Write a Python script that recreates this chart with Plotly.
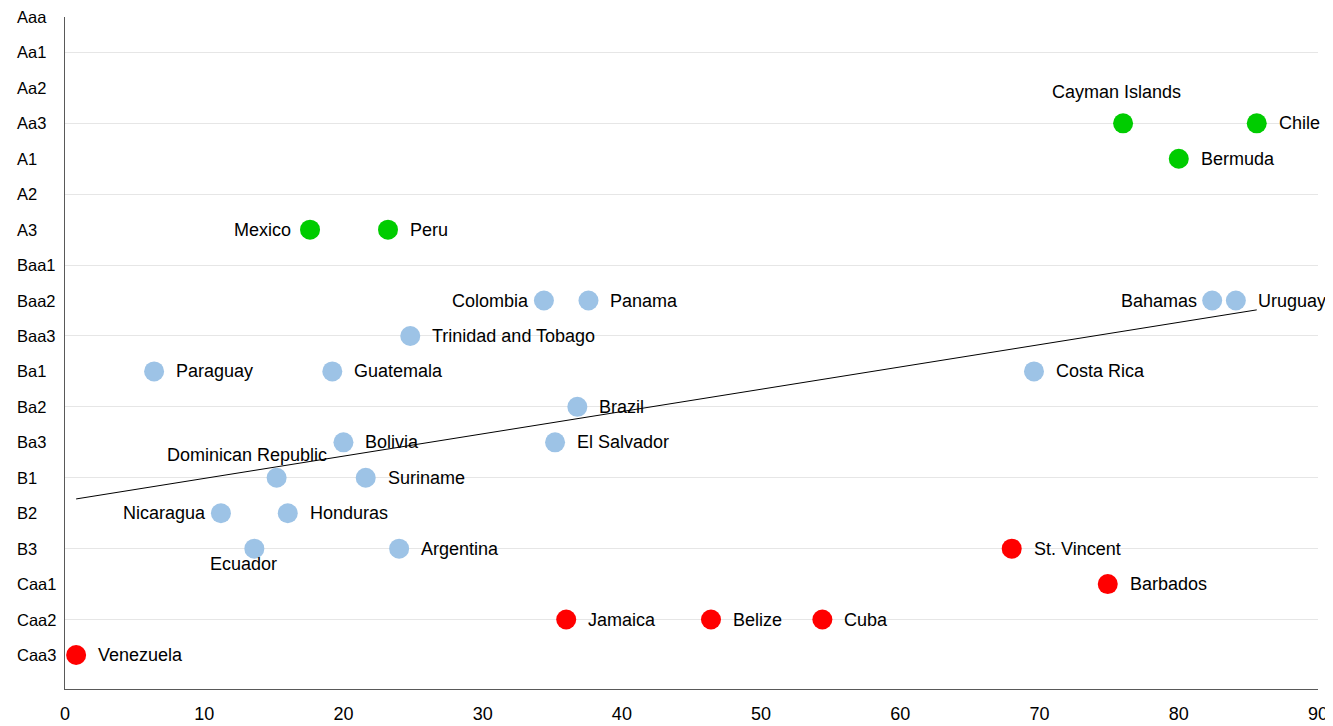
import numpy as np
import plotly.graph_objects as go

ratings = ["Caa3", "Caa2", "Caa1", "B3", "B2", "B1", "Ba3", "Ba2", "Ba1",
           "Baa3", "Baa2", "Baa1", "A3", "A2", "A1", "Aa3", "Aa2", "Aa1", "Aaa"]

countries = ["Cayman Islands", "Chile", "Bermuda", "Mexico", "Peru",
             "Colombia", "Panama", "Bahamas", "Uruguay", "Trinidad and Tobago",
             "Paraguay", "Guatemala", "Costa Rica", "Brazil", "Bolivia", "El Salvador",
             "Dominican Republic", "Suriname", "Nicaragua", "Honduras", "Ecuador", "Argentina",
             "St. Vincent", "Barbados", "Jamaica", "Belize", "Cuba", "Venezuela"]
xvals = [76.0, 85.6, 80.0, 17.6, 23.2,
         34.4, 37.6, 82.4, 84.1, 24.8,
         6.4, 19.2, 69.6, 36.8, 20.0, 35.2,
         15.2, 21.6, 11.2, 16.0, 13.6, 24.0,
         68.0, 74.9, 36.0, 46.4, 54.4, 0.8]
country_rating = ["Aa3", "Aa3", "A1", "A3", "A3",
                  "Baa2", "Baa2", "Baa2", "Baa2", "Baa3",
                  "Ba1", "Ba1", "Ba1", "Ba2", "Ba3", "Ba3",
                  "B1", "B1", "B2", "B2", "B3", "B3",
                  "B3", "Caa1", "Caa2", "Caa2", "Caa2", "Caa3"]
group = ["g"] * 5 + ["b"] * 17 + ["r"] * 6

# label placement (style only)
label_pos = ["top", "right", "right", "left", "right",
             "left", "right", "left", "right", "right",
             "right", "right", "right", "right", "right", "right",
             "topleft", "right", "left", "right", "bottom", "right",
             "right", "right", "right", "right", "right", "right"]

colors = {"g": "#00CC00", "b": "#9DC3E6", "r": "#FF0000"}
FONT = "Liberation Sans, Arial, sans-serif"

yvals = [ratings.index(r) + 1 for r in country_rating]

fig = go.Figure()

# trend line (linear fit over all points)
coef = np.polyfit(xvals, yvals, 1)
xl = np.array([min(xvals), max(xvals)])
fig.add_trace(go.Scatter(x=xl, y=np.polyval(coef, xl), mode="lines",
                         line=dict(color="#000000", width=1), hoverinfo="skip",
                         showlegend=False))

for g in ["b", "g", "r"]:
    idx = [i for i in range(len(countries)) if group[i] == g]
    fig.add_trace(go.Scatter(
        x=[xvals[i] for i in idx], y=[yvals[i] for i in idx],
        mode="markers", text=[countries[i] for i in idx],
        marker=dict(color=colors[g], size=20, line=dict(width=0)),
        showlegend=False))

annotations = []
for i, name in enumerate(countries):
    p = label_pos[i]
    a = dict(x=xvals[i], y=yvals[i], xref="x", yref="y", text=name, showarrow=False,
             font=dict(family=FONT, size=18, color="#000000"), yanchor="middle")
    if p == "right":
        a.update(xanchor="left", xshift=20)
    elif p == "left":
        a.update(xanchor="right", xshift=-13 if name != "Mexico" else -17)
    elif p == "top":
        a.update(xanchor="center", xshift=-7, yshift=31)
    elif p == "topleft":
        a.update(xanchor="center", xshift=-30, yshift=23)
    elif p == "bottom":
        a.update(xanchor="center", xshift=-11, yshift=-15)
    annotations.append(a)

# left-aligned y category labels
for j, r in enumerate(ratings):
    annotations.append(dict(x=-0.0399, y=j + 1, xref="paper", yref="y", text=r,
                            showarrow=False, xanchor="left", yanchor="middle",
                            font=dict(family=FONT, size=16.5, color="#000000")))

fig.update_layout(
    width=1325, height=718,
    margin=dict(l=57, r=15, t=9, b=37, autoexpand=False),
    paper_bgcolor="white", plot_bgcolor="white",
    annotations=annotations,
    font=dict(family=FONT, size=17, color="#000000"),
    xaxis=dict(range=[0, 90], tickvals=list(range(0, 91, 10)), showgrid=False,
               zeroline=False, showline=True, linecolor="#595959", linewidth=1.3,
               ticks="", ticklabelstandoff=8, automargin=False,
               tickfont=dict(family=FONT, size=18, color="#000000")),
    yaxis=dict(range=[0.04, 19], tickvals=list(range(2, 19, 2)), showticklabels=False,
               showgrid=True, gridcolor="#E6E6E6", gridwidth=1, zeroline=False,
               showline=True, linecolor="#595959", linewidth=1.3, ticks="",
               automargin=False),
)

fig.write_html("out.html")
